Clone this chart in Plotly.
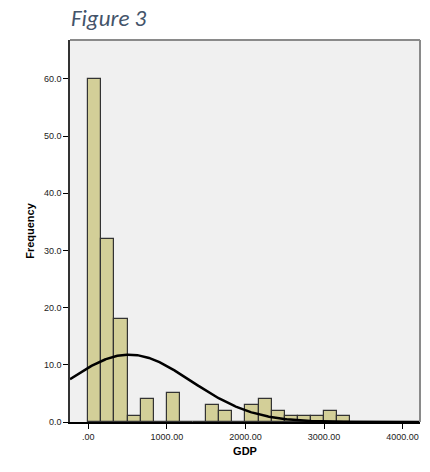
import plotly.graph_objects as go
import numpy as np

# Histogram data (GDP), bin width = 1000/6
bin_width = 1000 / 6
bin_starts = [i * bin_width for i in range(20)]
counts = [60, 32, 18, 1, 4, 0, 5, 0, 0, 3, 2, 0, 3, 4, 2, 1, 1, 1, 2, 1]

# Normal curve parameters
curve_mean = 520
curve_sd = 790
n_total = sum(counts)

x_ticks = [0, 1000, 2000, 3000, 4000]
x_tick_labels = [".00", "1000.00", "2000.00", "3000.00", "4000.00"]
y_ticks = [0, 10, 20, 30, 40, 50, 60]
y_tick_labels = ["0.0", "10.0", "20.0", "30.0", "40.0", "50.0", "60.0"]

x_range = [-233, 4222]
y_range = [0, 66.8]

centers = [s + bin_width / 2 for s in bin_starts]

xc = np.linspace(x_range[0], x_range[1], 400)
yc = n_total * bin_width / (curve_sd * np.sqrt(2 * np.pi)) * np.exp(-((xc - curve_mean) ** 2) / (2 * curve_sd ** 2))

fig = go.Figure()
fig.add_trace(go.Bar(
    x=centers, y=counts, width=bin_width,
    marker=dict(color="#D3CF98", line=dict(color="#333333", width=1.2)),
    hoverinfo="skip",
))
fig.add_trace(go.Scatter(
    x=xc, y=yc, mode="lines",
    line=dict(color="#000000", width=2.5),
    hoverinfo="skip", cliponaxis=True,
))

fig.update_layout(
    width=430, height=472,
    margin=dict(l=70, r=10, t=40, b=50, autoexpand=False),
    paper_bgcolor="#FFFFFF",
    plot_bgcolor="#F0F0F0",
    showlegend=False,
    bargap=0,
    font=dict(family="Liberation Sans, Arial, sans-serif", size=9, color="#222222"),
    shapes=[
        dict(type="line", xref="paper", yref="paper", x0=0, x1=1, y0=1, y1=1,
             line=dict(color="#8A8A8A", width=2), layer="above"),
        dict(type="line", xref="paper", yref="paper", x0=1, x1=1, y0=0, y1=1,
             line=dict(color="#8A8A8A", width=2), layer="above"),
    ],
    annotations=[dict(text="<i>Figure 3</i>", xref="paper", yref="paper",
                      x=-0.003, y=1.0, xanchor="left", yanchor="bottom", yshift=6,
                      showarrow=False,
                      font=dict(family="Carlito, Open Sans, sans-serif", size=23, color="#44546A"))],
)
fig.update_xaxes(
    range=x_range, tickvals=x_ticks, ticktext=x_tick_labels, automargin=False,
    showgrid=False, zeroline=False, showline=True, linecolor="#000000", linewidth=1.5,
    ticks="outside", ticklen=5, tickcolor="#000000",
    tickfont=dict(size=9, color="#222222"),
    title=dict(text="<b>GDP</b>", font=dict(size=11, color="#000000"), standoff=7),
)
fig.update_yaxes(
    range=y_range, tickvals=y_ticks, ticktext=y_tick_labels, automargin=False,
    showgrid=False, zeroline=False, showline=True, linecolor="#333333", linewidth=1.5,
    ticks="outside", ticklen=5, tickcolor="#000000",
    tickfont=dict(size=9, color="#222222"),
    title=dict(text="<b>Frequency</b>", font=dict(size=11, color="#000000"), standoff=7),
)

fig.write_html("out.html", config={"displayModeBar": False},
               post_script="document.body.style.margin='0';document.body.style.padding='0';")
